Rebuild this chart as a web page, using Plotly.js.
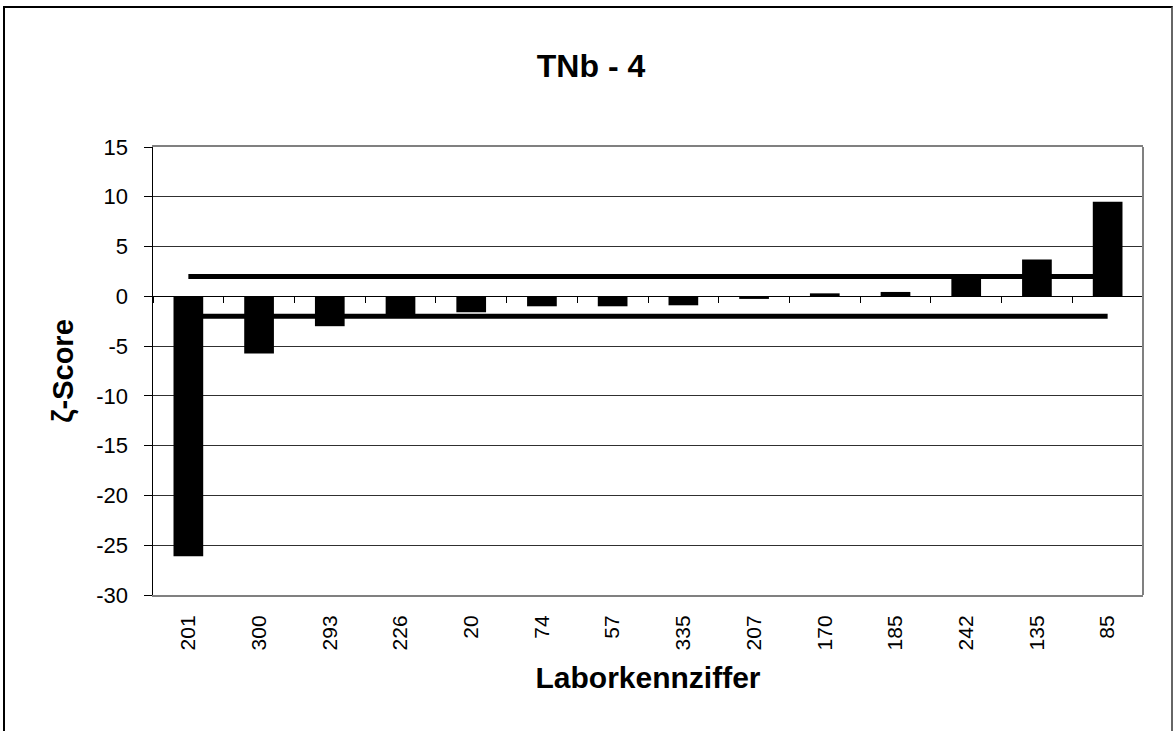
<!DOCTYPE html>
<html>
<head>
<meta charset="utf-8">
<script src="https://cdn.plot.ly/plotly-3.0.1.min.js"></script>
<style>
  html, body { margin: 0; padding: 0; background: #fff; overflow: hidden; }
  #chart { width: 1175px; height: 731px; }
  #frame { position: absolute; left: 3px; top: 6px; width: 1166px; height: 800px;
           border-left: 2px solid #000; border-top: 2px solid #000; border-right: 2px solid #666;
           pointer-events: none; }
</style>
</head>
<body>
<div id="chart"></div>
<div id="frame"></div>
<script>
// Laboratory codes (categories) and zeta scores
var categories = ["201", "300", "293", "226", "20", "74", "57", "335", "207", "170", "185", "242", "135", "85"];
var zetaScores = [-26.1, -5.75, -3.0, -2.15, -1.6, -1.0, -1.0, -0.9, -0.26, 0.3, 0.44, 1.95, 3.7, 9.5];
var upperLimit = [2, 2];
var lowerLimit = [-2, -2];
var yTickValues = [15, 10, 5, 0, -5, -10, -15, -20, -25, -30];

var limitX = [categories[0], categories[categories.length - 1]];
var catRange = [-0.5, categories.length - 0.5];

var traces = [
  {
    type: "bar",
    x: categories,
    y: zetaScores,
    marker: { color: "#000000", line: { width: 0 } },
    hoverinfo: "x+y",
    showlegend: false
  },
  {
    type: "scatter",
    mode: "lines",
    x: limitX,
    y: upperLimit,
    line: { color: "#000000", width: 5 },
    hoverinfo: "skip",
    showlegend: false
  },
  {
    type: "scatter",
    mode: "lines",
    x: limitX,
    y: lowerLimit,
    line: { color: "#000000", width: 5 },
    hoverinfo: "skip",
    showlegend: false
  },
  {
    type: "scatter",
    mode: "markers",
    x: categories,
    y: zetaScores,
    xaxis: "x2",
    marker: { opacity: 0, size: 1 },
    hoverinfo: "skip",
    showlegend: false
  }
];

var layout = {
  width: 1175,
  height: 731,
  paper_bgcolor: "#ffffff",
  plot_bgcolor: "#ffffff",
  margin: { l: 153, r: 32, t: 147, b: 136 },
  bargap: 0.58,
  font: { family: "Arial, Liberation Sans, sans-serif", color: "#000" },
  title: {
    text: "<b>TNb - 4</b>",
    font: { family: "Arial, Liberation Sans, sans-serif", size: 32, color: "#000" },
    x: 0.503, xanchor: "center",
    y: 1 - 66 / 731, yanchor: "middle", yref: "container"
  },
  xaxis: {
    type: "category",
    categoryorder: "array",
    categoryarray: categories,
    range: catRange,
    autorange: false,
    showgrid: false,
    zeroline: false,
    showline: true,
    linecolor: "#808080",
    linewidth: 2,
    mirror: true,
    ticks: "",
    tickangle: -90,
    ticklabelstandoff: 10,
    tickfont: { size: 21, family: "Arial, Liberation Sans, sans-serif" },
    title: {
      text: "<b>Laborkennziffer</b>",
      font: { size: 30, family: "Arial, Liberation Sans, sans-serif" },
      standoff: 18
    },
    fixedrange: true
  },
  xaxis2: {
    type: "category",
    categoryorder: "array",
    categoryarray: categories,
    range: catRange,
    autorange: false,
    overlaying: "x",
    anchor: "free",
    position: 30 / 45,
    side: "bottom",
    showgrid: false,
    zeroline: false,
    showline: false,
    showticklabels: false,
    ticks: "outside",
    tickson: "boundaries",
    ticklen: 6,
    tickwidth: 1,
    tickcolor: "#000"
  },
  yaxis: {
    range: [-30, 15],
    autorange: false,
    tickvals: yTickValues,
    ticktext: yTickValues.map(String),
    showgrid: true,
    gridcolor: "#303030",
    gridwidth: 1,
    zeroline: true,
    zerolinecolor: "#000",
    zerolinewidth: 1.5,
    showline: true,
    linecolor: "#000",
    linewidth: 1.5,
    ticks: "outside",
    ticklen: 8,
    tickcolor: "#000",
    tickwidth: 1,
    ticklabelstandoff: 11,
    tickfont: { size: 22, family: "Arial, Liberation Sans, sans-serif" },
    title: {
      text: "<b>ζ-Score</b>",
      font: { size: 29, family: "Arial, Liberation Sans, sans-serif" },
      standoff: 14
    },
    fixedrange: true
  },
  shapes: [
    { type: "line", xref: "paper", yref: "paper", x0: 1, x1: 1, y0: 0, y1: 1,
      line: { color: "#808080", width: 2 }, layer: "above" }
  ]
};

Plotly.newPlot("chart", traces, layout, { displayModeBar: false, staticPlot: true });
</script>
</body>
</html>
